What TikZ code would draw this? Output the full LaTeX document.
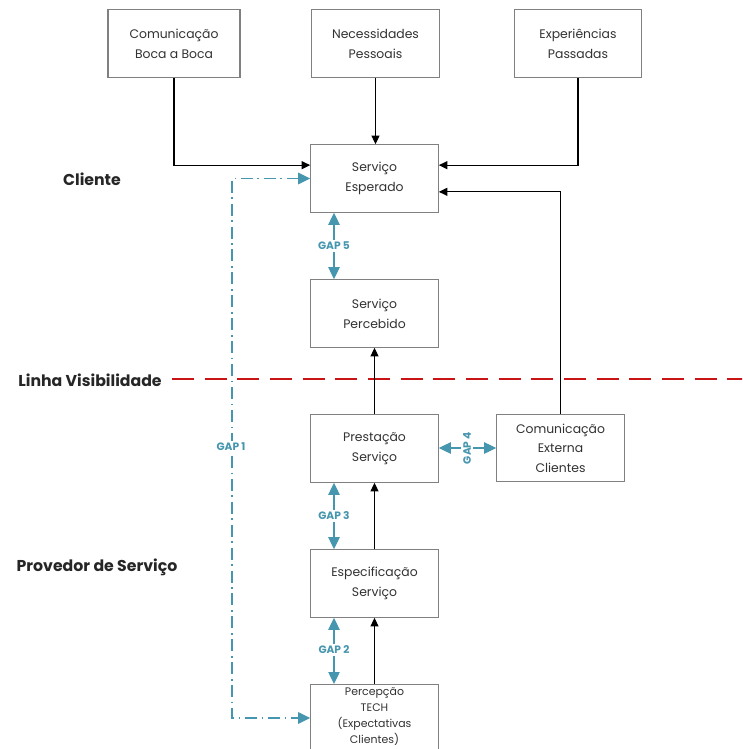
\documentclass[tikz,border=0pt]{standalone}
\usepackage{fontspec}
\setmainfont{Poppins}
\usetikzlibrary{arrows.meta,calc}
\definecolor{boxline}{RGB}{128,128,128}
\definecolor{boxtext}{RGB}{50,50,50}
\definecolor{gapteal}{RGB}{70,150,175}
\definecolor{visred}{RGB}{200,20,20}
\tikzset{
  stage/.style={draw=boxline, line width=0.9pt, fill=white, minimum width=95.5pt,
    minimum height=50.5pt, align=center, text=boxtext, font=\fontsize{9.3}{15}\selectfont},
  flow/.style={line width=0.9pt, -{Triangle[length=6.5pt,width=6pt]}},
  gaptag/.style={text=gapteal, font=\fontsize{8}{9}\selectfont\bfseries, inner sep=1.5pt, fill=white},
  gaparrow/.style={draw=gapteal, line width=1pt, -{Triangle[length=9pt,width=8.5pt]}},
  gapline/.style={draw=gapteal, line width=1.2pt, dash pattern=on 9pt off 3.5pt on 1.2pt off 3.5pt,
    {Triangle[length=9pt,width=8.5pt]}-{Triangle[length=9pt,width=8.5pt]}},
  zone/.style={font=\fontsize{11.8}{13}\selectfont\bfseries, text=black!85}
}
\begin{document}
\begin{tikzpicture}[x=0.75pt,y=-0.75pt]
\useasboundingbox (0,0) rectangle (742,749);
\clip (0,0) rectangle (742,749);

% influence boxes
\node[stage, minimum width=99pt] (boca) at (174,43.5) {Comunicação\\Boca a Boca};
\node[stage] (nec) at (375.5,43.5) {Necessidades\\Pessoais};
\node[stage] (exp) at (578,43.5) {Experiências\\Passadas};

% main column
\node[stage] (esp) at (374.5,178.5) {Serviço\\Esperado};
\node[stage] (perc) at (374.5,313.5) {Serviço\\Percebido};
\node[stage] (prest) at (374.5,448.5) {Prestação\\Serviço};
\node[stage, font=\fontsize{9.3}{14.5}\selectfont] (ext) at (560.5,448) {Comunicação\\Externa\\Clientes};
\node[stage] (espec) at (374.5,583.5) {Especificação\\Serviço};
% this box runs on below the lower edge
\node[stage, anchor=north, minimum height=0pt, inner ysep=2.5pt, text depth=12pt,
      font=\fontsize{8.2}{12}\selectfont] (tech) at (374.5,684)
  {Percepção\\TECH\\(Expectativas\\Clientes)};

% zone labels
\node[zone] (cli) at (92,179) {Cliente};
\node[zone] (lin) at (90,380) {Linha Visibilidade};
\node[zone] (prov) at (97,567) {Provedor de Serviço};

% line of visibility
\coordinate (v0) at (172,379);
\coordinate (v1) at (745,379);
\draw[visred, line width=2.2pt, dash pattern=on 16.5pt off 8pt] (v0) -- (v1);

% black flows
\draw[flow] (boca.south) |- ([yshift=10pt]esp.west);
\draw[flow] (nec.south) -- (esp.north -| nec.south);
\draw[flow] (exp.south) |- ([yshift=10pt]esp.east);
\draw[flow] (ext.north) |- ([yshift=-10pt]esp.east);
\draw[flow] (prest.north) -- (perc.south);
\draw[flow] (espec.north) -- (prest.south);
\draw[flow] (tech.north) -- (espec.south);

% gaps
\node[gaptag] (g5) at (334,246) {GAP 5};
\draw[gaparrow] (g5) -- (esp.south -| g5);
\draw[gaparrow] (g5) -- (perc.north -| g5);

\node[gaptag] (g3) at (334,516) {GAP 3};
\draw[gaparrow] (g3) -- (prest.south -| g3);
\draw[gaparrow] (g3) -- (espec.north -| g3);

\node[gaptag] (g2) at (334,650) {GAP 2};
\draw[gaparrow] (g2) -- (espec.south -| g2);
\draw[gaparrow] (g2) -- (tech.north -| g2);

\node[gaptag, rotate=90] (g4) at (467,448) {GAP 4};
\draw[gaparrow] (g4) -- (prest.east |- g4);
\draw[gaparrow] (g4) -- (ext.west |- g4);

\coordinate (c1) at (232,178.5);
\coordinate (c2) at (232,718);
\draw[gapline] (esp.west) -- (c1) -- (c2) -- (c2 -| tech.west);
\node[gaptag] (g1) at (231,447) {GAP 1};
\end{tikzpicture}
\end{document}
